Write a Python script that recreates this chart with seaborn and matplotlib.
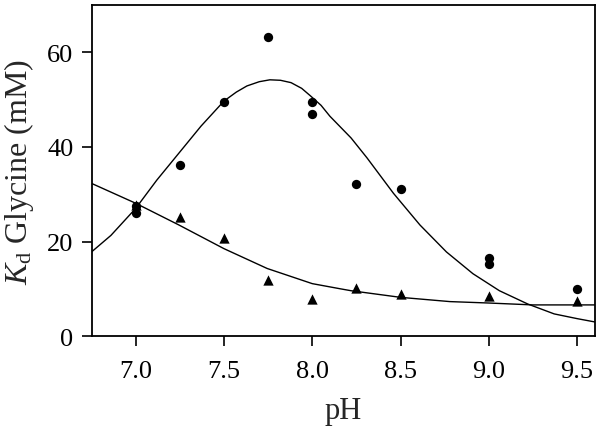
import matplotlib
matplotlib.use("Agg")
import matplotlib.pyplot as plt
import seaborn as sns
import numpy as np
import pandas as pd

sns.set_style("ticks")
plt.rcParams['font.family'] = ['Liberation Serif', 'DejaVu Serif']
plt.rcParams['mathtext.fontset'] = 'custom'
plt.rcParams['mathtext.rm'] = 'Liberation Serif'
plt.rcParams['mathtext.it'] = 'Liberation Serif:italic'

# measured points: circles
ph_circ = [7.0, 7.0, 7.25, 7.5, 7.75, 8.0, 8.0, 8.25, 8.5, 9.0, 9.0, 9.5]
kd_circ = [27.6, 26.0, 36.2, 49.5, 63.3, 49.5, 47.0, 32.2, 31.1, 16.5, 15.2, 10.0]

# measured points: triangles
ph_tri = [7.0, 7.25, 7.5, 7.75, 8.0, 8.25, 8.5, 9.0, 9.5]
kd_tri = [27.8, 25.1, 20.7, 11.9, 7.9, 10.1, 9.0, 8.4, 7.4]

# fitted curve (bell shaped)
ph_fit1 = [6.75, 6.86, 7.0, 7.12, 7.245, 7.37, 7.5, 7.57, 7.63, 7.70, 7.76, 7.82,
           7.88, 7.94, 7.99, 8.05, 8.10, 8.16, 8.22, 8.31, 8.46, 8.61, 8.76,
           8.91, 9.06, 9.22, 9.37, 9.5, 9.6]
kd_fit1 = [17.8, 21.3, 27.0, 33.0, 38.7, 44.4, 49.7, 51.6, 52.9, 53.8, 54.2, 54.1,
           53.6, 52.4, 50.8, 48.8, 46.5, 44.2, 41.9, 37.7, 30.2, 23.5, 17.8,
           13.2, 9.6, 6.8, 4.7, 3.7, 3.0]

# fitted curve (decreasing)
ph_fit2 = [6.75, 7.0, 7.245, 7.5, 7.745, 8.0, 8.16, 8.22, 8.5, 8.78, 9.0, 9.25, 9.6]
kd_fit2 = [32.3, 28.1, 23.5, 18.5, 14.3, 11.1, 10.0, 9.6, 8.2, 7.3, 7.0, 6.6, 6.6]

fig = plt.figure(figsize=(6.02, 4.35), dpi=100)
ax = fig.add_axes([0.152, 0.225, 0.836, 0.761])

sns.lineplot(x=ph_fit1, y=kd_fit1, ax=ax, color='black', linewidth=1.0, sort=False)
sns.lineplot(x=ph_fit2, y=kd_fit2, ax=ax, color='black', linewidth=1.0, sort=False)
sns.scatterplot(x=ph_circ, y=kd_circ, ax=ax, marker='o', color='black', s=45,
                edgecolor='black', linewidth=0, zorder=3)
sns.scatterplot(x=ph_tri, y=kd_tri, ax=ax, marker='^', color='black', s=55,
                edgecolor='black', linewidth=0, zorder=3)

ax.set_xlim(6.75, 9.6)
ax.set_ylim(0, 70)
ax.set_xticks([7.0, 7.5, 8.0, 8.5, 9.0, 9.5])
ax.set_xticklabels(['7.0', '7.5', '8.0', '8.5', '9.0', '9.5'])
ax.set_yticks([0, 20, 40, 60])
ax.tick_params(direction='out', length=7, width=1.2, labelsize=19, colors='black')
ax.tick_params(axis='x', pad=10)
ax.tick_params(axis='y', pad=6)
for s in ax.spines.values():
    s.set_linewidth(1.3)
    s.set_color('black')

ax.set_xlabel('pH', fontsize=22, labelpad=10)
ax.set_ylabel('$K_\\mathrm{d}$ Glycine (mM)', fontsize=23, labelpad=8)

fig.savefig('out.png', dpi=100)
